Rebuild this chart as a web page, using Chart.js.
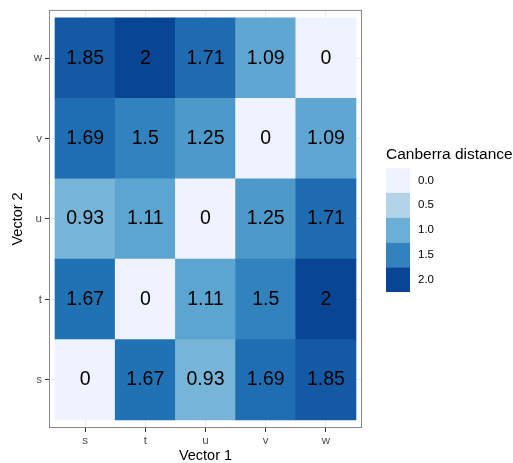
<!DOCTYPE html>
<html>
<head>
<meta charset="utf-8">
<script src="https://cdn.jsdelivr.net/npm/chart.js@4"></script>
<style>
  body { margin: 0; background: #fff; }
  canvas { display: block; }
</style>
</head>
<body>
<canvas id="distChart" width="513" height="463"></canvas>
<script>
// categories on both axes
const vector1 = ['s', 't', 'u', 'v', 'w'];
const vector2 = ['s', 't', 'u', 'v', 'w'];

// Canberra distances, one row per Vector 2 value (s at the bottom)
const distS = [0, 1.67, 0.93, 1.69, 1.85];
const distT = [1.67, 0, 1.11, 1.5, 2];
const distU = [0.93, 1.11, 0, 1.25, 1.71];
const distV = [1.69, 1.5, 1.25, 0, 1.09];
const distW = [1.85, 2, 1.71, 1.09, 0];
const rows = [distS, distT, distU, distV, distW];

// legend breaks and their labels
const legendBreaks = [0, 0.5, 1, 1.5, 2];
const legendLabels = ['0.0', '0.5', '1.0', '1.5', '2.0'];

// Blues (7 steps), spread over the 0..2 range
const blues = ['#eff3ff', '#c6dbef', '#9ecae1', '#6baed6', '#4292c6', '#2171b5', '#084594'];
const fillMin = 0, fillMax = 2;

function hexToRgb(h) {
  return [parseInt(h.slice(1, 3), 16), parseInt(h.slice(3, 5), 16), parseInt(h.slice(5, 7), 16)];
}

function colorFor(v) {
  const t = Math.min(1, Math.max(0, (v - fillMin) / (fillMax - fillMin))) * (blues.length - 1);
  const i = Math.min(blues.length - 2, Math.floor(t));
  const f = t - i;
  const a = hexToRgb(blues[i]), b = hexToRgb(blues[i + 1]);
  const c = a.map((x, k) => Math.round(x + (b[k] - x) * f));
  return 'rgb(' + c.join(',') + ')';
}

const FONT = '"Liberation Sans", Arial, Helvetica, sans-serif';

// one floating-bar dataset per row, each bar covers one tile
const datasets = rows.map((row, j) => ({
  label: vector2[j],
  data: row.map((v, i) => ({ x: i + 1, y: [j + 0.5, j + 1.5], v: v })),
  backgroundColor: row.map(v => colorFor(v)),
  borderWidth: 0,
  grouped: false,
  barPercentage: 1,
  categoryPercentage: 1
}));

// value printed in the middle of each tile
const cellLabels = {
  id: 'cellLabels',
  afterDatasetsDraw(chart) {
    const ctx = chart.ctx;
    ctx.save();
    ctx.font = '19.5px ' + FONT;
    ctx.fillStyle = '#000';
    ctx.textAlign = 'center';
    ctx.textBaseline = 'middle';
    chart.data.datasets.forEach((ds, d) => {
      chart.getDatasetMeta(d).data.forEach((bar, i) => {
        const p = bar.getProps(['x', 'y', 'base'], true);
        ctx.fillText(String(ds.data[i].v), p.x, (p.y + p.base) / 2);
      });
    });
    ctx.restore();
  }
};

// box around the panel
const panelBorder = {
  id: 'panelBorder',
  afterDraw(chart) {
    const a = chart.chartArea;
    const ctx = chart.ctx;
    ctx.save();
    ctx.strokeStyle = '#888';
    ctx.lineWidth = 1;
    ctx.strokeRect(a.left + 0.5, a.top + 0.5, a.right - a.left - 1, a.bottom - a.top - 1);
    ctx.restore();
  }
};

// stepped colour key on the right
const fillLegend = {
  id: 'fillLegend',
  afterDraw(chart) {
    const ctx = chart.ctx;
    const x0 = 386, y0 = 168, key = 24.8, keyW = 24;
    ctx.save();
    ctx.fillStyle = '#000';
    ctx.font = '15.5px ' + FONT;
    ctx.textAlign = 'left';
    ctx.textBaseline = 'alphabetic';
    ctx.fillText('Canberra distance', x0, 159);
    legendBreaks.forEach((b, i) => {
      ctx.fillStyle = colorFor(b);
      ctx.fillRect(x0, y0 + i * key, keyW, key);
    });
    ctx.font = '11.5px ' + FONT;
    ctx.fillStyle = '#000';
    ctx.textBaseline = 'middle';
    legendLabels.forEach((t, i) => {
      ctx.fillText(t, x0 + keyW + 8, y0 + (i + 0.5) * key);
    });
    ctx.restore();
  }
};

const tickFont = { family: FONT, size: 11.5 };
const titleFont = { family: FONT, size: 14.5, lineHeight: 1 };

new Chart(document.getElementById('distChart'), {
  type: 'bar',
  data: { datasets: datasets },
  options: {
    responsive: false,
    animation: false,
    layout: { padding: { left: 0, top: 9, right: 151, bottom: 0 } },
    plugins: {
      legend: { display: false },
      tooltip: { enabled: false }
    },
    scales: {
      x: {
        type: 'linear',
        min: 0.4,
        max: 5.6,
        offset: false,
        afterBuildTicks: s => { s.ticks = vector1.map((c, i) => ({ value: i + 1 })); },
        afterFit: s => { s.height = 35; },
        ticks: {
          callback: v => vector1[v - 1],
          color: '#4d4d4d',
          font: tickFont,
          padding: 2,
          maxRotation: 0
        },
        grid: { color: '#ebebeb', lineWidth: 1, tickColor: '#333', tickLength: 4, offset: false },
        border: { display: false },
        title: { display: true, text: 'Vector 1', color: '#000', font: titleFont, padding: { top: 0, bottom: 0 } }
      },
      y: {
        type: 'linear',
        min: 0.4,
        max: 5.6,
        beginAtZero: false,
        afterBuildTicks: s => { s.ticks = vector2.map((c, i) => ({ value: i + 1 })); },
        afterFit: s => { s.width = 49; },
        ticks: {
          callback: v => vector2[v - 1],
          color: '#4d4d4d',
          font: tickFont,
          padding: 3
        },
        grid: { color: '#ebebeb', lineWidth: 1, tickColor: '#333', tickLength: 4 },
        border: { display: false },
        title: { display: true, text: 'Vector 2', color: '#000', font: titleFont, padding: { top: 11, bottom: 0 } }
      }
    }
  },
  plugins: [cellLabels, panelBorder, fillLegend]
});
</script>
</body>
</html>
